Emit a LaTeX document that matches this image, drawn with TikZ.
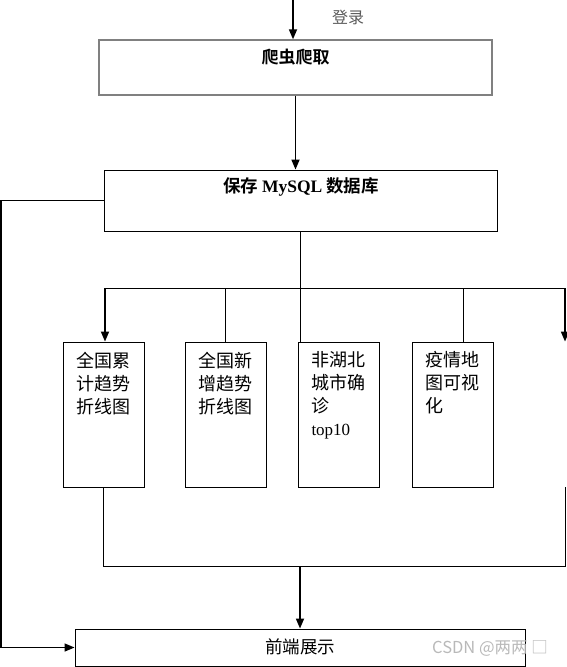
\documentclass[tikz,border=0pt]{standalone}
\usepackage{fontspec}
\setmainfont{Liberation Serif}
\newfontfamily\cjk{Noto Sans CJK SC}[BoldFont={Noto Sans CJK SC Bold}]
\usetikzlibrary{arrows.meta,calc,positioning}
\definecolor{flowgray}{RGB}{128,128,128}
\definecolor{notegray}{RGB}{90,90,90}
\definecolor{markgray}{RGB}{185,185,185}
\newcommand{\chartbox}[3]{%
  \node[chart] (#1) at (#2,414.5) {};
  \node[charttext] (#1-t) at ([yshift=-10pt]#1.north) {#3};
}

\begin{document}
\begin{tikzpicture}[x=1pt,y=-1pt,font=\fontsize{16}{23}\selectfont\cjk,
    box/.style={draw,inner sep=0pt,minimum width=393pt,line width=.9pt},
    chart/.style={draw,inner sep=0pt,minimum width=81pt,minimum height=145pt,line width=.9pt},
    charttext/.style={anchor=north,align=left,inner sep=0pt,font=\fontsize{18}{23}\selectfont\cjk},
    arr/.style={line width=1.7pt,-{Triangle[length=10pt,width=8pt]}},
    link/.style={line width=.9pt}]
    \useasboundingbox (0,0) rectangle (567,667);
    % top boxes
    \node[box,draw=flowgray,line width=1.4pt,minimum height=55pt] (crawl) at (295.5,67.5) {};
    \node[font=\fontsize{17}{17}\selectfont\cjk\bfseries] (crawl-t) at (295.5,57) {爬虫爬取};
    \node[box,minimum height=61pt] (mysql) at (300.5,200.5) {};
    \node[font=\fontsize{17.5}{17}\selectfont\cjk\bfseries] (mysql-t) at (301,187) {保存 {\rmfamily MySQL} 数据库};
    \coordinate (login) at (293,0);
    \node[text=notegray] (login-t) at (348,17) {登录};
    \draw[arr] (login) -- (login |- crawl.north);
    \draw[arr] (crawl.south) -- (crawl.south |- mysql.north);
    % five charts
    \chartbox{cA}{103.5}{全国累\\计趋势\\折线图}
    \chartbox{cB}{225.5}{全国新\\增趋势\\折线图}
    \chartbox{cC}{338.5}{非湖北\\城市确\\诊\\{\rmfamily\fontsize{17}{23}\selectfont top10}}
    \chartbox{cD}{452.5}{疫情地\\图可视\\化}
    \coordinate (bus-l) at (105,288);
    \coordinate (bus-r) at (565,288);
    \draw[link] (bus-l) -- (bus-r);
    \draw[arr] (bus-l) -- (bus-l |- cA.north);
    \draw[arr] (bus-r) -- (bus-r |- cA.north);
    \draw[link] (cB.north |- bus-l) -- (cB.north);
    \draw[link] (mysql.south) -- (mysql.south |- cC.north);
    \draw[link] ([xshift=10.5pt]cD.north |- bus-l) -- ([xshift=10.5pt]cD.north);
    % back together
    \node[box,minimum width=450pt,minimum height=37pt] (front) at (300,647.5) {};
    \node[font=\fontsize{17.5}{17}\selectfont\cjk] (front-t) at (300,647) {前端展示};
    \coordinate (low-r) at (565,566);
    \coordinate (tail-r) at (565,487);
    \draw[link] (cA.south) |- (low-r) -- (tail-r);
    \draw[arr] (front.north |- low-r) -- (front.north);
    \coordinate (edge) at (1,420);
    \draw[arr,line width=1.3pt] (mysql.west) -| (edge) |- (front.west);
    \node[text=markgray,font=\fontsize{16.5}{16}\selectfont\cjk] (mark) at (490,648) {CSDN @两两 □};
\end{tikzpicture}
\end{document}
